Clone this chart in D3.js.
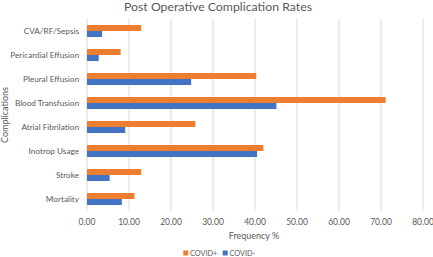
<!DOCTYPE html>
<html>
<head>
<meta charset="utf-8">
<script src="https://d3js.org/d3.v7.min.js"></script>
<style>
  body { margin: 0; background: #fff; font-family: Lato, "Open Sans", sans-serif; }
  text { fill: #595959; }
</style>
</head>
<body>
<div id="chart"></div>
<script>
// chart values
const categories = ["CVA/RF/Sepsis", "Pericardial Effusion", "Pleural Effusion", "Blood Transfusion",
                    "Atrial Fibrilation", "Inotrop Usage", "Stroke", "Mortality"];
const covidPos = [12.9, 8.0, 40.3, 71.1, 25.8, 42.0, 12.9, 11.3];
const covidNeg = [3.6, 2.8, 24.8, 45.1, 9.1, 40.5, 5.4, 8.3];
const xTicks = [0, 10, 20, 30, 40, 50, 60, 70, 80];
const seriesNames = ["COVID+", "COVID-"];
const colors = ["#ED7D31", "#4472C4"];

const W = 433, H = 257;
const margin = {top: 19, right: 10, bottom: 46, left: 87};

const svg = d3.select("#chart").append("svg")
  .attr("width", W).attr("height", H);

const x = d3.scaleLinear().domain([0, 80]).range([margin.left, 423]);
const y = d3.scaleBand().domain(categories)
  .range([margin.top, H - margin.bottom])
  .paddingInner(0.5).paddingOuter(0.25);
const sub = d3.scaleBand().domain(seriesNames).range([0, y.bandwidth()]);

// gridlines
svg.append("g").selectAll("line")
  .data(xTicks)
  .join("line")
    .attr("x1", d => x(d)).attr("x2", d => x(d))
    .attr("y1", margin.top).attr("y2", H - margin.bottom)
    .attr("stroke", "#d9d9d9").attr("stroke-width", 1);

const rows = categories.map((c, i) => ({cat: c, vals: [covidPos[i], covidNeg[i]]}));

const grp = svg.append("g").selectAll("g")
  .data(rows)
  .join("g")
    .attr("transform", d => `translate(0,${y(d.cat)})`);

grp.selectAll("rect")
  .data(d => d.vals.map((v, j) => ({v, s: seriesNames[j], c: colors[j]})))
  .join("rect")
    .attr("x", x(0))
    .attr("y", d => sub(d.s))
    .attr("width", d => x(d.v) - x(0))
    .attr("height", sub.bandwidth())
    .attr("fill", d => d.c);

// y axis labels
svg.append("g").selectAll("text")
  .data(categories)
  .join("text")
    .attr("x", 79)
    .attr("y", d => y(d) + y.bandwidth() / 2)
    .attr("dy", "0.35em")
    .attr("text-anchor", "end")
    .style("font-size", "8.2px")
    .text(d => d);

// x axis labels
svg.append("g").selectAll("text")
  .data(xTicks)
  .join("text")
    .attr("x", d => x(d))
    .attr("y", 222)
    .attr("dy", "0.35em")
    .attr("text-anchor", "middle")
    .style("font-size", "8.5px")
    .text(d => d3.format(".2f")(d));

svg.append("text")
  .attr("x", x(40) - 1).attr("y", 236).attr("dy", "0.35em")
  .attr("text-anchor", "middle").style("font-size", "9px")
  .text("Frequency %");

svg.append("text")
  .attr("transform", `translate(4.5,${(margin.top + H - margin.bottom) / 2}) rotate(-90)`)
  .attr("dy", "0.35em")
  .attr("text-anchor", "middle").style("font-size", "9px")
  .text("Complications");

svg.append("text")
  .attr("x", 218).attr("y", 10.5)
  .attr("text-anchor", "middle").style("font-size", "12.3px")
  .text("Post Operative Complication Rates");

// legend
const leg = svg.append("g").selectAll("g")
  .data(seriesNames)
  .join("g")
    .attr("transform", (d, i) => `translate(${i === 0 ? 183.3 : 222.7},253)`);
leg.append("rect").attr("x", 0).attr("y", -2.5).attr("width", 5).attr("height", 5)
  .attr("fill", (d, i) => colors[i]);
leg.append("text").attr("x", 6.8).attr("dy", "0.35em").style("font-size", "7.3px").text(d => d);
</script>
</body>
</html>
